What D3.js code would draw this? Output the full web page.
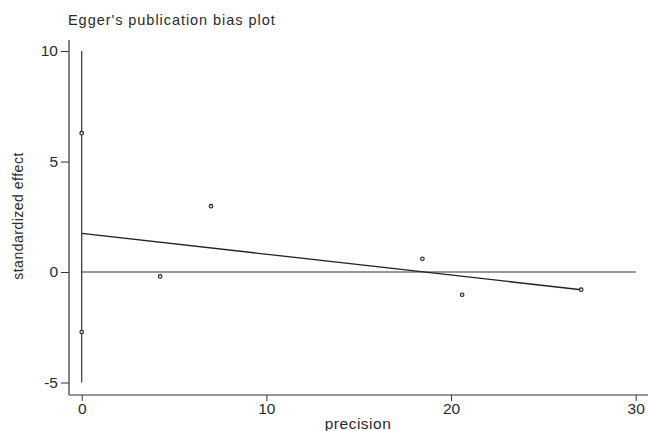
<!DOCTYPE html>
<html lang="en">
<head>
<meta charset="utf-8">
<script src="https://d3js.org/d3.v7.min.js"></script>
<style>
  body { margin: 0; background: #fff; }
  text { font-family: "Liberation Sans", Arial, sans-serif; fill: #2a2a2a; }
</style>
</head>
<body>
<svg id="chart" width="648" height="431"></svg>
<script>
// study points: precision vs standardized effect
const precision = [0, 0, 4.25, 7.0, 18.45, 20.6, 27.05];
const stdEffect = [6.28, -2.72, -0.2, 2.98, 0.6, -1.03, -0.8];

// Egger regression line
const eggerIntercept = 1.75;
const eggerSlope = -0.0944;
const interceptCI = [-5, 10];

const xTicks = [0, 10, 20, 30];
const yTicks = [-5, 0, 5, 10];

const svg = d3.select("#chart");

const x = d3.scaleLinear().domain([0, 30]).range([81.7, 635.7]);
const y = d3.scaleLinear().domain([-5, 10]).range([382.5, 51]);

const axisX = 395, axisY = 69;

// plain hyphen for negatives, like the original
const fmt = d => String(d);

// axis lines
svg.append("line")
  .attr("x1", axisY).attr("x2", 648)
  .attr("y1", axisX).attr("y2", axisX)
  .attr("stroke", "#333").attr("stroke-width", 1.2);
svg.append("line")
  .attr("x1", axisY).attr("x2", axisY)
  .attr("y1", 40).attr("y2", axisX)
  .attr("stroke", "#333").attr("stroke-width", 1.2);

// x ticks
const xg = svg.append("g").attr("transform", `translate(0,${axisX})`)
  .call(d3.axisBottom(x).tickValues(xTicks).tickSize(6).tickPadding(2).tickFormat(fmt));
xg.select(".domain").remove();
xg.selectAll("line").attr("stroke", "#333");
xg.selectAll("text").style("font-size", "15.5px").attr("fill", "#2a2a2a");

// y ticks
const yg = svg.append("g").attr("transform", `translate(${axisY},0)`)
  .call(d3.axisLeft(y).tickValues(yTicks).tickSize(8).tickPadding(3).tickFormat(fmt));
yg.select(".domain").remove();
yg.selectAll("line").attr("stroke", "#333");
yg.selectAll("text").style("font-size", "15.5px").attr("fill", "#2a2a2a");

// vertical line at precision 0 (intercept CI)
svg.append("line")
  .attr("x1", x(0)).attr("x2", x(0))
  .attr("y1", y(interceptCI[1])).attr("y2", y(interceptCI[0]))
  .attr("stroke", "#333").attr("stroke-width", 1.2);

// zero reference line
svg.append("line")
  .attr("x1", x(0)).attr("x2", x(30))
  .attr("y1", y(0)).attr("y2", y(0))
  .attr("stroke", "#333").attr("stroke-width", 1.2);

// regression line
const xMax = d3.max(precision);
svg.append("line")
  .attr("x1", x(0)).attr("x2", x(xMax))
  .attr("y1", y(eggerIntercept)).attr("y2", y(eggerIntercept + eggerSlope * xMax))
  .attr("stroke", "#222").attr("stroke-width", 1.3);

// points
svg.selectAll(".pt")
  .data(precision.map((p, i) => ({ p: p, e: stdEffect[i] })))
  .join("circle")
    .attr("class", "pt")
    .attr("cx", d => x(d.p))
    .attr("cy", d => y(d.e))
    .attr("r", 1.8)
    .attr("fill", "#ddd")
    .attr("stroke", "#222")
    .attr("stroke-width", 1.1);

// titles
svg.append("text")
  .attr("x", 68).attr("y", 25)
  .style("font-size", "14.5px")
  .style("letter-spacing", "0.95px")
  .text("Egger's publication bias plot");

svg.append("text")
  .attr("x", 358).attr("y", 429)
  .attr("text-anchor", "middle")
  .style("font-size", "15.5px")
  .style("letter-spacing", "0.5px")
  .text("precision");

svg.append("text")
  .attr("transform", "translate(23,216) rotate(-90)")
  .attr("text-anchor", "middle")
  .style("font-size", "14px")
  .style("letter-spacing", "0.5px")
  .text("standardized effect");
</script>
</body>
</html>
